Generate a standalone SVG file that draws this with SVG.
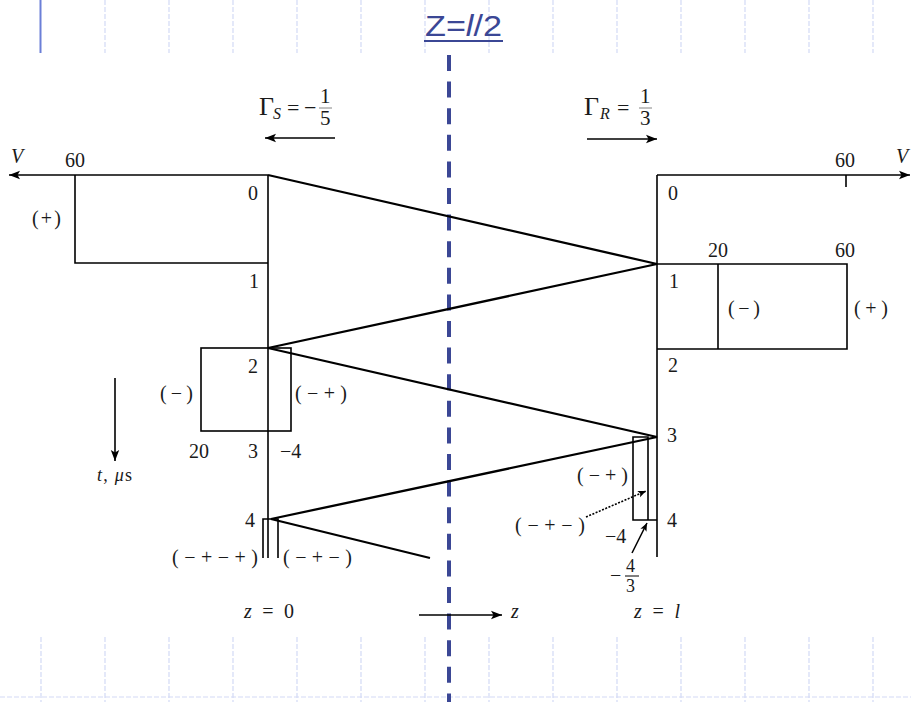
<svg xmlns="http://www.w3.org/2000/svg" width="911" height="702" viewBox="0 0 911 702">
<defs>
<marker id="ah" markerWidth="12" markerHeight="10" refX="11" refY="5" orient="auto" markerUnits="userSpaceOnUse">
<path d="M0,0.8 L11,5 L0,9.2 L2.5,5 Z" fill="#000"/>
</marker>
<marker id="ahs" markerWidth="9" markerHeight="8" refX="8" refY="4" orient="auto" markerUnits="userSpaceOnUse">
<path d="M0,0.6 L8,4 L0,7.4 L1.8,4 Z" fill="#000"/>
</marker>
</defs>
<style>
text{font-family:"Liberation Serif","Times New Roman",serif;font-size:20px;fill:#1a1a1a}
.it{font-style:italic}
.ln{stroke:#000;stroke-width:1.6;fill:none}
.zz{stroke:#000;stroke-width:2.3;fill:none}
.grid{stroke:#d3daf6;stroke-width:1.2;stroke-dasharray:5 2;fill:none}
</style>
<rect width="911" height="702" fill="#fff"/>
<g id="slide-grid">
<line x1="40.5" y1="0" x2="40.5" y2="53" stroke="#6b7fd7" stroke-width="2"/>
<path class="grid" d="M105,0V53M169,0V53M233,0V53M297,0V53M361,0V53M425,0V53M489,0V53M553,0V53M617,0V53M681,0V53M745,0V53M809,0V53M873,0V53"/>
<path class="grid" d="M41,637V702M105,637V702M169,637V702M233,637V702M297,637V702M361,637V702M425,637V702M489,637V702M553,637V702M617,637V702M681,637V702M745,637V702M809,637V702M873,637V702"/>
<path class="grid" d="M0,697H911"/>
</g>
<g id="midline">
<text x="425" y="36" style="font-family:'Liberation Sans','DejaVu Sans',sans-serif;font-size:29px;fill:#3b4795" textLength="77" lengthAdjust="spacingAndGlyphs">Z=<tspan font-style="italic">l</tspan>/2</text>
<line x1="424" y1="41" x2="503" y2="41" stroke="#3b4795" stroke-width="2"/>
<line x1="449" y1="55" x2="449" y2="702" stroke="#3b4795" stroke-width="4" stroke-dasharray="16 10.6"/>
</g>
<g id="gamma-s">
<text x="259" y="115" style="font-size:26px">Γ</text>
<text x="273" y="119" class="it" style="font-size:16px">S</text>
<text x="287" y="115" style="font-size:22px">=</text>
<text x="304" y="115" style="font-size:22px">−</text>
<text x="320" y="103" style="font-size:21px">1</text>
<line x1="319" y1="108" x2="332" y2="108" stroke="#000" stroke-width="0.8" opacity="0.6"/>
<text x="320" y="125" style="font-size:21px">5</text>
<line class="ln" x1="335" y1="138" x2="265" y2="138" marker-end="url(#ah)"/>
</g>
<g id="gamma-r">
<text x="584" y="115" style="font-size:26px">Γ</text>
<text x="600" y="119" class="it" style="font-size:16px">R</text>
<text x="617" y="115" style="font-size:22px">=</text>
<text x="640" y="103" style="font-size:21px">1</text>
<line x1="639" y1="108" x2="652" y2="108" stroke="#000" stroke-width="0.8" opacity="0.6"/>
<text x="640" y="125" style="font-size:21px">3</text>
<line class="ln" x1="587" y1="139" x2="657" y2="139" marker-end="url(#ah)"/>
</g>
<g id="source-side">
<line class="ln" x1="268" y1="175" x2="9" y2="175" marker-end="url(#ah)"/>
<text x="11" y="163" class="it">V</text>
<text x="65" y="167">60</text>
<line class="ln" x1="268" y1="175" x2="268" y2="558"/>
<path class="ln" d="M75,175V263H268"/>
<text x="32" y="225" textLength="29" lengthAdjust="spacing">(+)</text>
<text x="248" y="200">0</text>
<text x="249" y="288">1</text>
<rect class="ln" x="201" y="348" width="90" height="83"/>
<text x="248" y="373">2</text>
<text x="160" y="400" textLength="33" lengthAdjust="spacing">(−)</text>
<text x="295" y="400" textLength="52" lengthAdjust="spacing">(−+)</text>
<text x="189" y="458">20</text>
<text x="248" y="458">3</text>
<text x="280" y="458">−4</text>
<path class="ln" d="M263,558V519H278V558"/>
<text x="245" y="527">4</text>
<text x="172" y="564" textLength="86" lengthAdjust="spacing">(−+−+)</text>
<text x="283" y="564" textLength="69" lengthAdjust="spacing">(−+−)</text>
</g>
<g id="load-side">
<line class="ln" x1="657" y1="175" x2="910" y2="175" marker-end="url(#ah)"/>
<text x="896" y="163" class="it">V</text>
<text x="835" y="167">60</text>
<line class="ln" x1="846" y1="175" x2="846" y2="187"/>
<line class="ln" x1="657" y1="175" x2="657" y2="557"/>
<text x="668" y="200">0</text>
<path class="ln" d="M657,264H847V349H657M718,264V349"/>
<text x="708" y="257">20</text>
<text x="835" y="257">60</text>
<text x="669" y="288">1</text>
<text x="728" y="315" textLength="32" lengthAdjust="spacing">(−)</text>
<text x="854" y="315" textLength="34" lengthAdjust="spacing">(+)</text>
<text x="668" y="372">2</text>
<path class="ln" d="M633,437H648V520H633ZM648,520H657"/>
<text x="667" y="442">3</text>
<text x="667" y="527">4</text>
<text x="577" y="482" textLength="51" lengthAdjust="spacing">(−+)</text>
<text x="515" y="532" textLength="70" lengthAdjust="spacing">(−+−)</text>
<line x1="586" y1="517" x2="646" y2="491" stroke="#000" stroke-width="1.6" stroke-dasharray="2 1.5" marker-end="url(#ahs)"/>
<text x="605" y="543">−4</text>
<line class="ln" x1="632" y1="553" x2="647" y2="523" marker-end="url(#ahs)"/>
<text x="610" y="582">−</text>
<text x="626" y="572" style="font-size:18px">4</text>
<line x1="625" y1="576" x2="639" y2="576" stroke="#000" stroke-width="1"/>
<text x="626" y="592" style="font-size:18px">3</text>
</g>
<g id="time-axis">
<line class="ln" x1="115" y1="378" x2="115" y2="461" marker-end="url(#ah)"/>
<text x="97" y="481" style="font-size:18px" textLength="35" lengthAdjust="spacing"><tspan class="it">t</tspan>, <tspan class="it">μ</tspan>s</text>
</g>
<g id="connectors">
<polyline class="zz" points="268,175 657,264 268,348 657,437 271,519 430,558"/>
</g>
<g id="z-axis">
<text x="244" y="618" class="it" textLength="50" lengthAdjust="spacing">z<tspan font-style="normal"> = 0</tspan></text>
<line class="ln" x1="419" y1="615" x2="502" y2="615" marker-end="url(#ah)"/>
<text x="511" y="618" class="it">z</text>
<text x="634" y="618" class="it" textLength="46" lengthAdjust="spacing">z<tspan font-style="normal"> = </tspan>l</text>
</g>
</svg>
